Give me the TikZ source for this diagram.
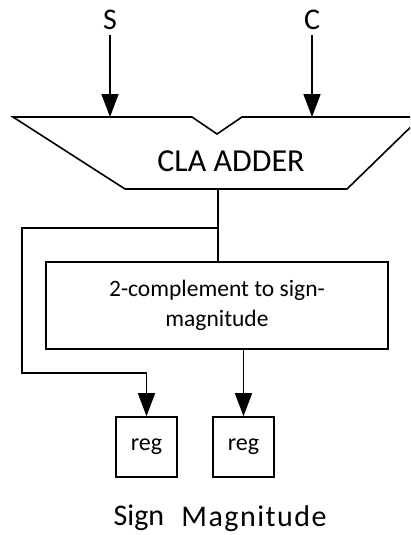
\documentclass[tikz,border=0pt]{standalone}
\usepackage{fontspec}
\setmainfont{Carlito}
\usetikzlibrary{arrows.meta}
\begin{document}
\begin{tikzpicture}[x=1pt,y=-1pt,
  line width=1.6pt,
  arr/.style={-{Triangle[length=23pt,width=17pt]}},
  box/.style={draw,rectangle,inner sep=0pt,align=center},
  lbl/.style={inner sep=0pt,font=\fontsize{30}{30}\selectfont}]
\clip (0,0) rectangle (410,535);
\fill[white] (0,0) rectangle (410,535);
% inputs
\node[lbl] (S) at (110,20) {S};
\node[lbl] (C) at (312,20) {C};
% adder
\draw[fill=white] (13,117) -- (192,117) -- (217,134) -- (242,117) -- (421,117)
  -- (347,189) -- (125,189) -- cycle;
\node[lbl,font=\fontsize{32}{32}\selectfont] (adder) at (231,161) {CLA ADDER};
\coordinate (sin) at (110,117);
\coordinate (cin) at (312,117);
\coordinate (aout) at (218,189);
\coordinate (jn) at (218,228);
\coordinate (c1) at (22,228);
\coordinate (c2) at (22,373);
\draw[arr] (S) ++(0,15) -- (sin);
\draw[arr] (C) ++(0,15) -- (cin);
% converter
\node[box,minimum width=342pt,minimum height=87pt,
  font=\fontsize{23.5}{30}\selectfont] (conv) at (217,305.5)
  {2-complement to sign-\\magnitude};
% registers
\node[box,minimum width=61pt,minimum height=60pt,font=\fontsize{24}{24}\selectfont] (regS) at (146.5,447) {reg};
\node[box,minimum width=61pt,minimum height=60pt,font=\fontsize{24}{24}\selectfont] (regM) at (243.5,447) {reg};
\coordinate (c3) at (146.5,373);
% connectors
\draw (aout) -- (aout |- conv.north);
\draw[arr] (jn) -- (c1) -- (c2) -- (c3) -- (regS.north);
\draw[arr] (conv.south -| regM) -- (regM.north);
% labels
\node[lbl] (sign) at (139,518) {Sign};
\node[lbl,font=\fontsize{30}{30}\selectfont\addfontfeature{LetterSpace=5}] (mag) at (254,519) {Magnitude};
\end{tikzpicture}
\end{document}
